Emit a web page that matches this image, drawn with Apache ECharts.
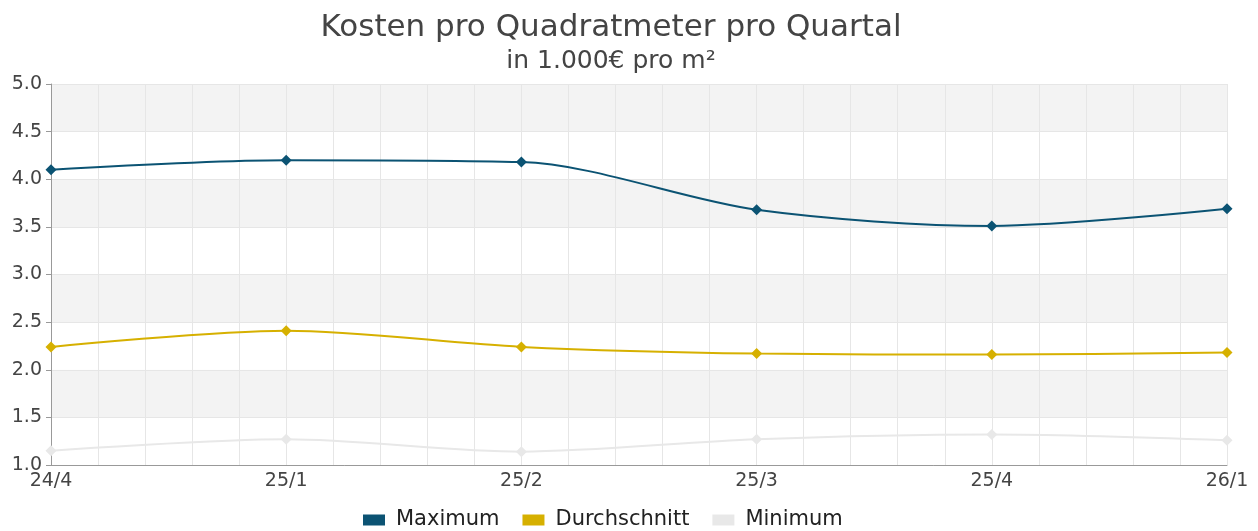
<!DOCTYPE html>
<html>
<head>
<meta charset="utf-8">
<script src="https://cdn.jsdelivr.net/npm/echarts@6/dist/echarts.min.js"></script>
<style>
  html, body { margin: 0; padding: 0; background: #fff; }
  #chart { width: 1258px; height: 531px; }
</style>
</head>
<body>
<div id="chart"></div>
<script>
// Quartale (x-Achse)
const quarters = ['24/4', '25/1', '25/2', '25/3', '25/4', '26/1']
// Werte in 1.000€ pro m²
const maximum = [4.10, 4.20, 4.18, 3.68, 3.51, 3.69]
const durchschnitt = [2.24, 2.41, 2.24, 2.17, 2.16, 2.18]
const minimum = [1.15, 1.27, 1.14, 1.27, 1.32, 1.26]
// y-Achse
const yMin = 1.0
const yMax = 5.0
const yStep = 0.5

const font = 'DejaVu Sans'
const toPoints = (arr) => arr.map((v, i) => [i, v])

const makeSeries = (name, data, color) => ({
  name: name,
  type: 'line',
  smooth: 0.3,
  data: toPoints(data),
  symbol: 'diamond',
  symbolSize: 11,
  lineStyle: { width: 2, color: color },
  itemStyle: { color: color },
})

const chart = echarts.init(document.getElementById('chart'))
const option = {
  animation: false,
  textStyle: { fontFamily: font },
  color: ['#0b5373', '#d6b000', '#e8e8e8'],
  title: {
    text: 'Kosten pro Quadratmeter pro Quartal',
    subtext: 'in 1.000€ pro m²',
    left: 606,
    top: 7,
    textAlign: 'center',
    itemGap: 6,
    textStyle: { fontFamily: font, fontSize: 31, fontWeight: 'normal', color: '#444' },
    subtextStyle: { fontFamily: font, fontSize: 25, color: '#444' },
  },
  legend: {
    top: 509,
    left: 363,
    padding: 0,
    itemWidth: 22,
    itemHeight: 11,
    itemGap: 23,
    icon: 'rect',
    textStyle: { fontFamily: font, fontSize: 21, lineHeight: 22, color: '#222', padding: [0, 0, 0, 6] },
    data: ['Maximum', 'Durchschnitt', 'Minimum'],
  },
  grid: {
    left: 51,
    right: 31,
    top: 84,
    bottom: 66,
    containLabel: false,
  },
  xAxis: {
    type: 'value',
    min: 0,
    max: quarters.length - 1,
    interval: 1,
    axisLine: { show: true, lineStyle: { color: '#999' } },
    axisTick: { show: false },
    axisLabel: {
      fontFamily: font,
      fontSize: 19,
      color: '#444',
      margin: 7,
      formatter: (v) => quarters[v] || '',
    },
    splitLine: { show: true, lineStyle: { color: '#e6e6e6', width: 1 } },
    minorTick: { show: false, splitNumber: 5 },
    minorSplitLine: { show: true, lineStyle: { color: '#e6e6e6', width: 1 } },
  },
  yAxis: {
    type: 'value',
    min: yMin,
    max: yMax,
    interval: yStep,
    axisLine: { show: true, lineStyle: { color: '#999' } },
    axisTick: { show: true, length: 5, lineStyle: { color: '#999' } },
    axisLabel: {
      fontFamily: font,
      fontSize: 19,
      color: '#444',
      margin: 9,
      formatter: (v) => v.toFixed(1),
    },
    splitLine: { show: true, lineStyle: { color: '#e6e6e6', width: 1 } },
    splitArea: { show: true, areaStyle: { color: ['#ffffff', '#f3f3f3'] } },
  },
  series: [
    makeSeries('Maximum', maximum, '#0b5373'),
    makeSeries('Durchschnitt', durchschnitt, '#d6b000'),
    makeSeries('Minimum', minimum, '#e8e8e8'),
  ],
}

option && chart.setOption(option)
</script>
</body>
</html>
